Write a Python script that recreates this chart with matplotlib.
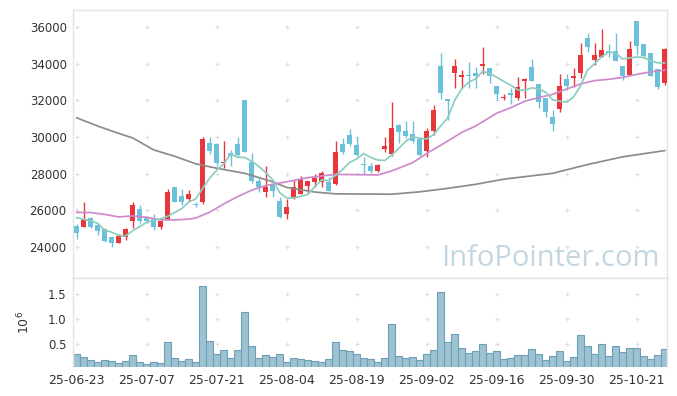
import matplotlib

matplotlib.use("Agg")
import matplotlib.pyplot as plt
import numpy as np
import pandas as pd

# KRX closed days inside the window
HOLIDAYS = ["2025-08-15", "2025-10-03", "2025-10-06", "2025-10-07", "2025-10-08", "2025-10-09"]

open_px = [
    25150, 25110, 25580, 25200, 24960, 24560, 24230, 24530, 25430, 26070,
    25580, 25560, 25110, 25470, 27250, 26780, 26600, 26360, 26450, 29650,
    29620, 28560, 29110, 29620, 32020, 28640, 27600, 27000, 27380, 26510,
    25780, 26650, 26910, 27340, 27560, 27560, 27560, 27450, 29620, 30110,
    29560, 28490, 28420, 28150, 29360, 29090, 30650, 30340, 30150, 29890,
    29250, 30330, 33870, 32090, 33490, 33260, 33340, 33490, 33870, 33760,
    32780, 32110, 32380, 32110, 33050, 33820, 32870, 32130, 31090, 31510,
    33160, 33220, 33480, 35380, 34200, 34380, 34710, 34710, 33870, 33380,
    36330, 35060, 34600, 33690, 32960,
]
high_px = [
    25250, 26450, 25640, 25290, 25050, 24560, 24690, 25040, 26450, 26310,
    25690, 25780, 25430, 27150, 27290, 27150, 27110, 26470, 29980, 30020,
    29690, 29760, 29290, 30000, 32020, 29140, 27750, 28440, 27510, 26710,
    26600, 27650, 27870, 27580, 27980, 28150, 27840, 29760, 29960, 30420,
    30020, 28930, 28600, 28510, 30020, 31910, 30710, 30850, 30850, 30020,
    30510, 31730, 34570, 32100, 34240, 33650, 34080, 33800, 34890, 33760,
    32780, 32330, 32690, 33260, 33200, 34250, 32870, 32130, 31460, 33420,
    33420, 33750, 35140, 35690, 35140, 35870, 35060, 35690, 33870, 35250,
    36330, 35060, 34600, 33690, 34840,
]
low_px = [
    24440, 25100, 25040, 24670, 24260, 23980, 24230, 24370, 25050, 25330,
    25330, 24930, 24960, 25470, 26450, 26290, 26530, 26170, 26350, 29070,
    28420, 28290, 28420, 28950, 29180, 27510, 26980, 26710, 26750, 25560,
    25510, 26610, 26870, 26960, 27290, 27250, 27050, 27360, 29050, 29490,
    28950, 27980, 28020, 28070, 29180, 28960, 29660, 29930, 29690, 28960,
    28930, 30110, 32060, 30930, 32660, 32660, 32660, 32660, 33420, 32930,
    32020, 32020, 31780, 32020, 32110, 33070, 31600, 31110, 30340, 31350,
    32550, 32710, 33200, 34650, 33930, 34380, 34350, 34160, 33110, 33380,
    34470, 34330, 33340, 32600, 32840,
]
close_px = [
    24780, 25470, 25110, 24890, 24340, 24230, 24600, 25000, 26290, 25430,
    25430, 25100, 25430, 26990, 26470, 26470, 26890, 26290, 29910, 29250,
    28600, 28650, 28960, 29020, 29180, 27620, 27250, 27250, 27070, 25650,
    26160, 27250, 27690, 27580, 27760, 28020, 27050, 29180, 29180, 29620,
    29020, 28470, 28150, 28470, 29500, 30490, 30290, 30050, 29800, 29020,
    30330, 31470, 32420, 31950, 33870, 33400, 33320, 33330, 33980, 33340,
    32360, 32180, 32290, 32730, 33150, 33070, 31890, 31350, 30690, 32780,
    32800, 33330, 34470, 34930, 34470, 34750, 34570, 34160, 33330, 34780,
    34980, 34430, 33340, 32710, 34780,
]
# volume, millions of shares
volume_m = [
    0.298, 0.238, 0.177, 0.137, 0.177, 0.157, 0.117, 0.157, 0.278, 0.137,
    0.097, 0.137, 0.117, 0.540, 0.218, 0.157, 0.198, 0.137, 1.669, 0.560,
    0.298, 0.379, 0.218, 0.379, 1.145, 0.460, 0.218, 0.278, 0.238, 0.298,
    0.137, 0.218, 0.198, 0.177, 0.157, 0.137, 0.198, 0.540, 0.379, 0.359,
    0.298, 0.218, 0.198, 0.137, 0.218, 0.903, 0.258, 0.218, 0.238, 0.177,
    0.298, 0.379, 1.548, 0.540, 0.702, 0.419, 0.319, 0.359, 0.500, 0.319,
    0.359, 0.198, 0.218, 0.278, 0.278, 0.399, 0.298, 0.177, 0.258, 0.359,
    0.157, 0.238, 0.681, 0.460, 0.298, 0.500, 0.258, 0.460, 0.339, 0.419,
    0.419, 0.258, 0.198, 0.278, 0.399,
]
# 5-day average, one value per session
ma5 = [
    25600, 25510, 25430, 25290, 24918, 24808, 24634, 24612, 24892, 25110,
    25350, 25450, 25536, 25676, 25884, 26092, 26450, 26622, 27206, 27762,
    28188, 28540, 29074, 28896, 28882, 28686, 28406, 28064, 27674, 26968,
    26676, 26676, 26764, 26866, 27288, 27660, 27620, 27918, 28238, 28610,
    28810, 29094, 28888, 28746, 28722, 29016, 29380, 29760, 30026, 29930,
    29898, 30134, 30608, 31038, 32008, 32622, 32992, 33174, 33580, 33474,
    33266, 33038, 32830, 32580, 32542, 32684, 32626, 32438, 32030, 31956,
    31902, 32190, 32814, 33662, 34000, 34390, 34638, 34576, 34256, 34318,
    34364, 34336, 34172, 34048, 34048,
]
# 20-day and long averages, read at a subset of sessions
ma20_idx = [0, 2, 4, 6, 8, 10, 12, 14, 16, 17, 19, 21, 23, 25, 27, 30, 33, 35, 37, 40,
            43, 45, 48, 50, 52, 55, 57, 60, 62, 64, 66, 68, 70, 72, 74, 76, 78, 80, 82, 84]
ma20 = [25890, 25880, 25780, 25640, 25700, 25620, 25480, 25480, 25520, 25580,
        25900, 26350, 26750, 27100, 27350, 27560, 27780, 27880, 27960, 27950,
        27930, 28150, 28600, 29100, 29550, 30250, 30600, 31300, 31600, 31950,
        32150, 32330, 32620, 32900, 33080, 33150, 33250, 33420, 33550, 33650]
ma_long_idx = [0, 3, 6, 8, 11, 14, 17, 20, 24, 28, 30, 34, 37, 42, 45, 49, 53, 57, 61, 68,
               73, 78, 84]
ma_long = [31050, 30600, 30200, 29950, 29300, 28950, 28540, 28300, 28020, 27560,
           27250, 27000, 26900, 26890, 26880, 27010, 27200, 27420, 27700, 28020,
           28500, 28920, 29260]

UP = "#e8363c"
DOWN = "#6bc0da"
GRID = "#dedede"
FRAME = "#e3e3e3"
TEXT = "#333333"


def plus_grid(ax, xs, ys) -> None:
    gx, gy = np.meshgrid(xs, ys)
    ax.scatter(gx.ravel(), gy.ravel(), marker="+", s=10, color=GRID, linewidths=0.8, zorder=0)


def style_axes(ax) -> None:
    for side in ("left", "right", "top", "bottom"):
        ax.spines[side].set_color(FRAME)
        ax.spines[side].set_linewidth(1.0)
    ax.tick_params(length=0, labelsize=8.5, colors=TEXT, pad=4.5)


def main() -> int:
    dates = pd.bdate_range("2025-06-23", "2025-10-27", freq="C", holidays=HOLIDAYS)
    x = np.arange(len(close_px))
    o = np.asarray(open_px, dtype=float)
    h = np.asarray(high_px, dtype=float)
    lo = np.asarray(low_px, dtype=float)
    c = np.asarray(close_px, dtype=float)
    up = c >= o
    colors = np.where(up, UP, DOWN)

    fig = plt.figure(figsize=(6.77, 3.96), dpi=100)
    ax = fig.add_axes([0.1078, 0.298, 0.8774, 0.6767])
    vax = fig.add_axes([0.1078, 0.0725, 0.8774, 0.2255], sharex=ax)

    tick_idx = np.arange(0, len(x), 10)
    yticks = [24000, 26000, 28000, 30000, 32000, 34000, 36000]

    # price panel
    plus_grid(ax, tick_idx, yticks)
    ax.vlines(x, lo, h, colors=colors, linewidth=1.0, zorder=2)
    body = np.maximum(np.abs(c - o), 70.0)
    ax.bar(x, body, bottom=np.minimum(o, c), width=0.72, color=colors, linewidth=0, zorder=3)
    ax.plot(ma_long_idx, ma_long, color="#8c8c8c", linewidth=1.25, zorder=4)
    ax.plot(ma20_idx, ma20, color="#cf8acb", linewidth=1.25, zorder=4)
    ax.plot(x, ma5, color="#8ccdc0", linewidth=1.25, zorder=4)

    ax.set_xlim(-0.53, 84.33)
    ax.set_ylim(22310, 36930)
    ax.set_yticks(yticks)
    ax.set_yticklabels([str(v) for v in yticks])
    ax.tick_params(axis="x", labelbottom=False)
    style_axes(ax)
    ax.text(0.988, 0.045, "InfoPointer.com", transform=ax.transAxes, ha="right",
            va="baseline", fontsize=21, color="#c3d7e2", family="Open Sans", zorder=1)

    # volume panel
    vticks = [0.5, 1.0, 1.5]
    plus_grid(vax, tick_idx, vticks)
    vax.bar(x, volume_m, width=1.0, color="#9dc2d2", edgecolor="#6f9fb6",
            linewidth=0.8, zorder=2)
    vax.set_ylim(0.035, 1.83)
    vax.set_yticks(vticks)
    vax.set_yticklabels([f"{v:.1f}" for v in vticks])
    vax.set_xticks(tick_idx)
    vax.set_xticklabels([dates[i].strftime("%y-%m-%d") for i in tick_idx])
    style_axes(vax)
    vax.tick_params(axis="x", labelsize=9)
    vax.spines["bottom"].set_visible(False)
    vax.set_ylabel(r"$\mathregular{10^6}$", color=TEXT, fontsize=9)
    vax.yaxis.set_label_coords(-0.069, 0.5)

    fig.savefig("out.png", dpi=100)
    plt.close(fig)
    return 0


if __name__ == "__main__":
    raise SystemExit(main())
